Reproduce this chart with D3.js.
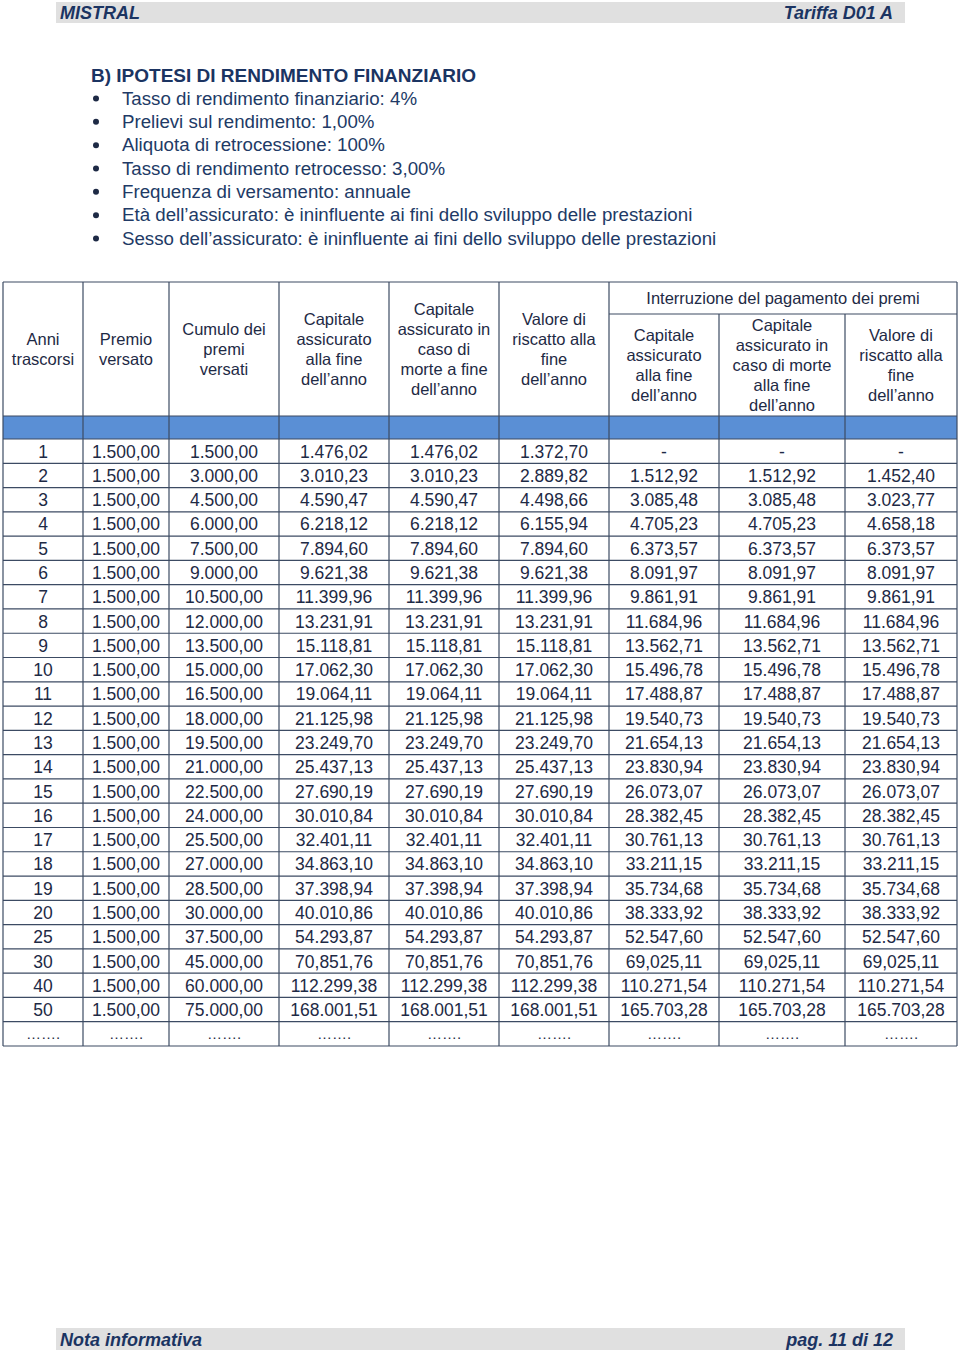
<!DOCTYPE html>
<html>
<head>
<meta charset="utf-8">
<script src="https://cdn.jsdelivr.net/npm/d3@7"></script>
<style>
  body { margin: 0; background: #fff; }
  svg { display: block; font-family: "Liberation Sans", Arial, sans-serif; }
</style>
</head>
<body>
<div id="page"></div>
<script>
// DATA (values as printed in the document, typos included)
var bullets = [
  "Tasso di rendimento finanziario: 4%",
  "Prelievi sul rendimento: 1,00%",
  "Aliquota di retrocessione: 100%",
  "Tasso di rendimento retrocesso: 3,00%",
  "Frequenza di versamento: annuale",
  "Età dell’assicurato: è ininfluente ai fini dello sviluppo delle prestazioni",
  "Sesso dell’assicurato: è ininfluente ai fini dello sviluppo delle prestazioni"
];

var anni = ["1","2","3","4","5","6","7","8","9","10","11","12","13","14","15","16","17","18","19","20","25","30","40","50"];
var premio = ["1.500,00","1.500,00","1.500,00","1.500,00","1.500,00","1.500,00","1.500,00","1.500,00","1.500,00","1.500,00","1.500,00","1.500,00","1.500,00","1.500,00","1.500,00","1.500,00","1.500,00","1.500,00","1.500,00","1.500,00","1.500,00","1.500,00","1.500,00","1.500,00"];
var cumulo = ["1.500,00","3.000,00","4.500,00","6.000,00","7.500,00","9.000,00","10.500,00","12.000,00","13.500,00","15.000,00","16.500,00","18.000,00","19.500,00","21.000,00","22.500,00","24.000,00","25.500,00","27.000,00","28.500,00","30.000,00","37.500,00","45.000,00","60.000,00","75.000,00"];
var capitaleFine = ["1.476,02","3.010,23","4.590,47","6.218,12","7.894,60","9.621,38","11.399,96","13.231,91","15.118,81","17.062,30","19.064,11","21.125,98","23.249,70","25.437,13","27.690,19","30.010,84","32.401,11","34.863,10","37.398,94","40.010,86","54.293,87","70,851,76","112.299,38","168.001,51"];
var capitaleMorte = ["1.476,02","3.010,23","4.590,47","6.218,12","7.894,60","9.621,38","11.399,96","13.231,91","15.118,81","17.062,30","19.064,11","21.125,98","23.249,70","25.437,13","27.690,19","30.010,84","32.401,11","34.863,10","37.398,94","40.010,86","54.293,87","70,851,76","112.299,38","168.001,51"];
var riscatto = ["1.372,70","2.889,82","4.498,66","6.155,94","7.894,60","9.621,38","11.399,96","13.231,91","15.118,81","17.062,30","19.064,11","21.125,98","23.249,70","25.437,13","27.690,19","30.010,84","32.401,11","34.863,10","37.398,94","40.010,86","54.293,87","70,851,76","112.299,38","168.001,51"];
var intCapitale = ["-","1.512,92","3.085,48","4.705,23","6.373,57","8.091,97","9.861,91","11.684,96","13.562,71","15.496,78","17.488,87","19.540,73","21.654,13","23.830,94","26.073,07","28.382,45","30.761,13","33.211,15","35.734,68","38.333,92","52.547,60","69,025,11","110.271,54","165.703,28"];
var intMorte = ["-","1.512,92","3.085,48","4.705,23","6.373,57","8.091,97","9.861,91","11.684,96","13.562,71","15.496,78","17.488,87","19.540,73","21.654,13","23.830,94","26.073,07","28.382,45","30.761,13","33.211,15","35.734,68","38.333,92","52.547,60","69,025,11","110.271,54","165.703,28"];
var intRiscatto = ["-","1.452,40","3.023,77","4.658,18","6.373,57","8.091,97","9.861,91","11.684,96","13.562,71","15.496,78","17.488,87","19.540,73","21.654,13","23.830,94","26.073,07","28.382,45","30.761,13","33.211,15","35.734,68","38.333,92","52.547,60","69,025,11","110.271,54","165.703,28"];

var headers = [
  ["Anni", "trascorsi"],
  ["Premio", "versato"],
  ["Cumulo dei", "premi", "versati"],
  ["Capitale", "assicurato", "alla fine", "dell’anno"],
  ["Capitale", "assicurato in", "caso di", "morte a fine", "dell’anno"],
  ["Valore di", "riscatto alla", "fine", "dell’anno"],
  ["Capitale", "assicurato", "alla fine", "dell’anno"],
  ["Capitale", "assicurato in", "caso di morte", "alla fine", "dell’anno"],
  ["Valore di", "riscatto alla", "fine", "dell’anno"]
];
var groupLabel = "Interruzione del pagamento dei premi";

var columns = [anni, premio, cumulo, capitaleFine, capitaleMorte, riscatto, intCapitale, intMorte, intRiscatto];

// LAYOUT
var W = 960, H = 1352;
var ink = "#1e2a45", navy = "#1b3462", grid = "#3c4b63", blue = "#5a8fd5";
var colEdges = [3, 83, 169, 279, 389, 499, 609, 719, 845, 957];
var tableTop = 282, groupBottom = 314, headBottom = 416, blueBottom = 439, tableBottom = 1046;

var svg = d3.select("#page").append("svg").attr("width", W).attr("height", H);

// page header / footer bars
function bar(y, h, left, right) {
  svg.append("rect").attr("x", 56).attr("y", y).attr("width", 849).attr("height", h).attr("fill", "#e0e0e0");
  svg.append("text").attr("x", 60).attr("y", y + h - 4).text(left)
      .attr("font-family", "'Liberation Sans Narrow', 'Liberation Sans', sans-serif")
      .attr("font-weight", "bold").attr("font-style", "italic").attr("font-size", 18).attr("fill", navy);
  svg.append("text").attr("x", 893).attr("y", y + h - 4).attr("text-anchor", "end").text(right)
      .attr("font-family", "'Liberation Sans Narrow', 'Liberation Sans', sans-serif")
      .attr("font-weight", "bold").attr("font-style", "italic").attr("font-size", 18).attr("fill", navy);
}
bar(2, 21, "MISTRAL", "Tariffa D01 A");
bar(1328, 22, "Nota informativa", "pag. 11 di 12");

// section title and bullets
svg.append("text").attr("x", 91).attr("y", 82).text("B)  IPOTESI DI RENDIMENTO FINANZIARIO")
    .attr("font-weight", "bold").attr("font-size", 19).attr("fill", navy);

var by = d3.scalePoint().domain(d3.range(bullets.length)).range([98, 238]);
var bl = svg.append("g").selectAll("g").data(bullets).enter().append("g")
    .attr("transform", (d, i) => "translate(0," + by(i) + ")");
bl.append("circle").attr("cx", 96).attr("cy", 0.5).attr("r", 3).attr("fill", ink);
bl.append("text").attr("x", 122).attr("y", 6.5).text(d => d).attr("font-size", 18.7).attr("fill", "#213a66");

// TABLE
var x = d3.scaleOrdinal().domain(d3.range(9)).range(colEdges.slice(0, 9));
var cw = i => colEdges[i + 1] - colEdges[i];
var y = d3.scaleBand().domain(d3.range(anni.length + 1)).range([blueBottom, tableBottom]);

var t = svg.append("g");

// blue band under header
t.append("rect").attr("x", colEdges[0]).attr("y", headBottom).attr("width", colEdges[9] - colEdges[0])
    .attr("height", blueBottom - headBottom).attr("fill", blue);

// header text
headers.forEach(function(lines, i) {
  var top = i >= 6 ? groupBottom : tableTop;
  var cy = (top + headBottom) / 2, lh = 20;
  var y0 = cy - (lines.length - 1) * lh / 2;
  t.append("text").attr("text-anchor", "middle").attr("font-size", 16.5).attr("fill", ink)
    .selectAll("tspan").data(lines).enter().append("tspan")
    .attr("x", x(i) + cw(i) / 2).attr("y", (d, k) => y0 + k * lh + 6).text(d => d);
});
t.append("text").attr("x", (colEdges[6] + colEdges[9]) / 2).attr("y", 304).attr("text-anchor", "middle")
    .attr("font-size", 16.5).attr("fill", ink).text(groupLabel);

// body cells
var rows = d3.range(anni.length);
columns.forEach(function(col, i) {
  t.append("g").selectAll("text").data(rows).enter().append("text")
    .attr("x", x(i) + cw(i) / 2).attr("y", r => y(r) + y.bandwidth() / 2 + 6.5)
    .attr("text-anchor", "middle").attr("font-size", 17.5).attr("fill", ink)
    .text(r => col[r]);
  t.append("text").attr("x", x(i) + cw(i) / 2).attr("y", y(anni.length) + y.bandwidth() / 2 + 5)
    .attr("text-anchor", "middle").attr("font-size", 15).attr("fill", ink).text("…….");
});

// grid lines
var hLines = [tableTop, headBottom, blueBottom].concat(d3.range(1, anni.length + 1).map(r => y(r))).concat([tableBottom]);
t.append("g").selectAll("line").data(hLines).enter().append("line")
    .attr("x1", colEdges[0]).attr("x2", colEdges[9]).attr("y1", d => d).attr("y2", d => d)
    .attr("stroke", grid).attr("stroke-width", 1.2);
t.append("line").attr("x1", colEdges[6]).attr("x2", colEdges[9]).attr("y1", groupBottom).attr("y2", groupBottom)
    .attr("stroke", grid).attr("stroke-width", 1.2);
t.append("g").selectAll("line").data(colEdges).enter().append("line")
    .attr("x1", d => d).attr("x2", d => d)
    .attr("y1", (d, i) => (i === 7 || i === 8) ? groupBottom : tableTop).attr("y2", tableBottom)
    .attr("stroke", grid).attr("stroke-width", 1.2);
</script>
</body>
</html>
